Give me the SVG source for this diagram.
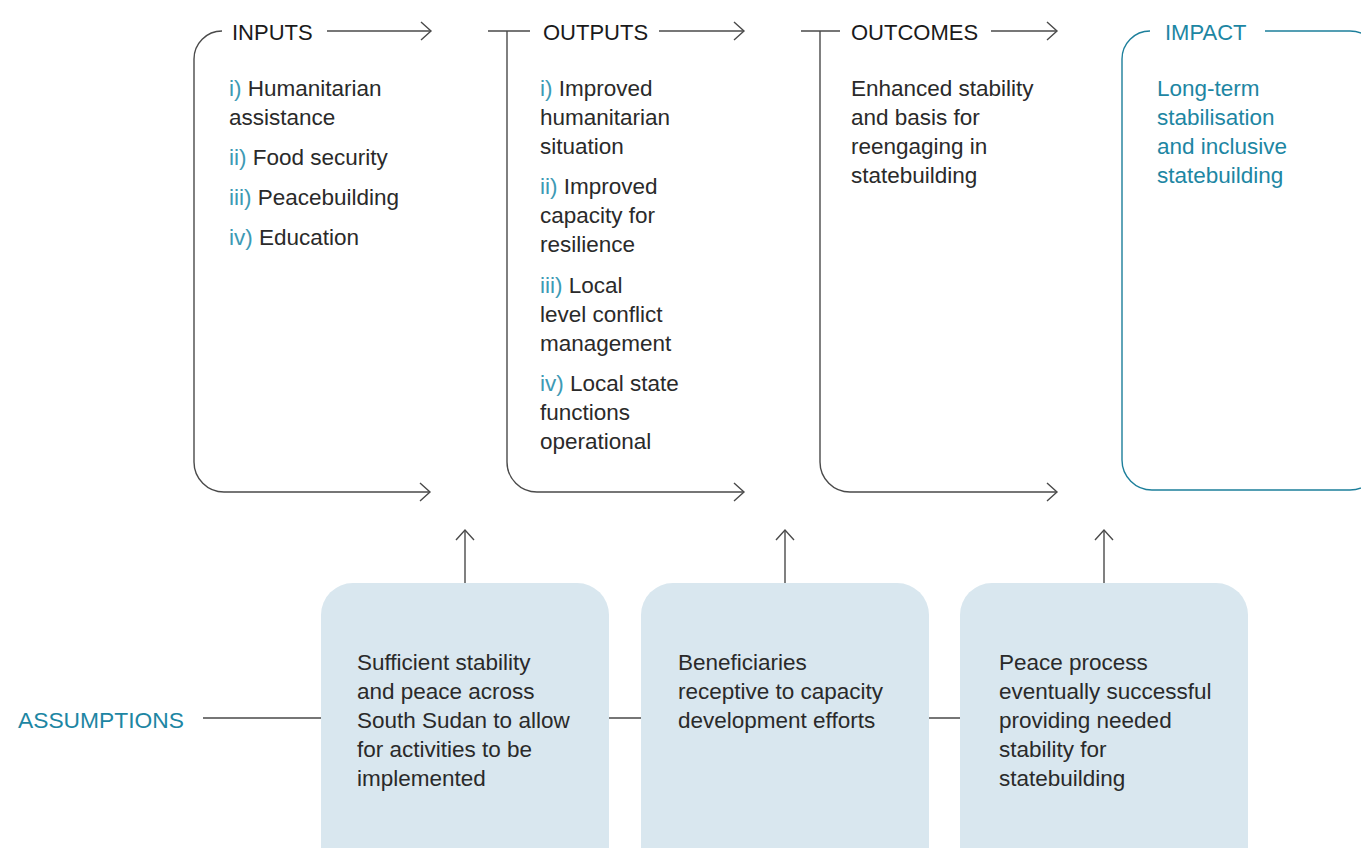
<svg xmlns="http://www.w3.org/2000/svg" width="1361" height="848" viewBox="0 0 1361 848">
<defs>
<marker id="chev" markerWidth="14" markerHeight="20" refX="11" refY="10" orient="auto" markerUnits="userSpaceOnUse">
<path d="M1,1 L11,10 L1,19" fill="none" stroke="#4a4a4a" stroke-width="1.4"/>
</marker>
</defs>
<style>
text{font-family:"Liberation Sans",Arial,sans-serif;font-size:22.5px;fill:#2a2a2a}
.h{font-size:22px;fill:#1a1a1a}
.n{fill:#3d9ab5}
.t{fill:#1d86a3}
.ln{fill:none;stroke:#4a4a4a;stroke-width:1.4}
.lt{fill:none;stroke:#1d7f9b;stroke-width:1.4}
.box{fill:#d9e7ef}
</style>
<rect width="1361" height="848" fill="#fff"/>

<g id="inputs">
<path class="ln" d="M222,31 A28,28 0 0 0 194,59 L194,462 A30,30 0 0 0 224,492 L430,492" marker-end="url(#chev)"/>
<text class="h" x="232" y="40">INPUTS</text>
<text x="229" y="96"><tspan class="n">i)</tspan> Humanitarian</text>
<text x="229" y="125">assistance</text>
<text x="229" y="165"><tspan class="n">ii)</tspan> Food security</text>
<text x="229" y="205"><tspan class="n">iii)</tspan> Peacebuilding</text>
<text x="229" y="245"><tspan class="n">iv)</tspan> Education</text>
</g>

<g id="outputs">
<path class="ln" d="M488,31 L530,31 M507,31 L507,462 A30,30 0 0 0 537,492 L744,492" marker-end="url(#chev)"/>
<text class="h" x="543" y="40">OUTPUTS</text>
<text x="540" y="96"><tspan class="n">i)</tspan> Improved</text>
<text x="540" y="125">humanitarian</text>
<text x="540" y="154">situation</text>
<text x="540" y="194"><tspan class="n">ii)</tspan> Improved</text>
<text x="540" y="223">capacity for</text>
<text x="540" y="252">resilience</text>
<text x="540" y="293"><tspan class="n">iii)</tspan> Local</text>
<text x="540" y="322">level conflict</text>
<text x="540" y="351">management</text>
<text x="540" y="391"><tspan class="n">iv)</tspan> Local state</text>
<text x="540" y="420">functions</text>
<text x="540" y="449">operational</text>
</g>

<g id="outcomes">
<path class="ln" d="M801,31 L840,31 M820,31 L820,462 A30,30 0 0 0 850,492 L1057,492" marker-end="url(#chev)"/>
<text class="h" x="851" y="40">OUTCOMES</text>
<text x="851" y="96">Enhanced stability</text>
<text x="851" y="125">and basis for</text>
<text x="851" y="154">reengaging in</text>
<text x="851" y="183">statebuilding</text>
</g>

<g id="impact">
<path class="lt" d="M1150,31 A28,28 0 0 0 1122,59 L1122,460 A30,30 0 0 0 1152,490 L1350,490 A30,30 0 0 0 1380,460 L1380,61 A30,30 0 0 0 1350,31 L1265,31"/>
<text class="h t" x="1165" y="40">IMPACT</text>
<text class="t" x="1157" y="96">Long-term</text>
<text class="t" x="1157" y="125">stabilisation</text>
<text class="t" x="1157" y="154">and inclusive</text>
<text class="t" x="1157" y="183">statebuilding</text>
</g>

<g id="connectors">
<path class="ln" d="M327,31 L431,31" marker-end="url(#chev)"/>
<path class="ln" d="M659,31 L744,31" marker-end="url(#chev)"/>
<path class="ln" d="M991,31 L1057,31" marker-end="url(#chev)"/>
<path class="ln" d="M465,583 L465,530" marker-end="url(#chev)"/>
<path class="ln" d="M785,583 L785,530" marker-end="url(#chev)"/>
<path class="ln" d="M1104,583 L1104,530" marker-end="url(#chev)"/>
<path class="ln" d="M203,718 L321,718 M609,718 L641,718 M929,718 L960,718"/>
</g>

<g id="assumptions">
<text class="t" x="18" y="728" style="font-size:22.8px">ASSUMPTIONS</text>
</g>

<g id="assumption1">
<rect class="box" x="321" y="583" width="288" height="300" rx="32"/>
<text x="357" y="670">Sufficient stability</text>
<text x="357" y="699">and peace across</text>
<text x="357" y="728">South Sudan to allow</text>
<text x="357" y="757">for activities to be</text>
<text x="357" y="786">implemented</text>
</g>

<g id="assumption2">
<rect class="box" x="641" y="583" width="288" height="300" rx="32"/>
<text x="678" y="670">Beneficiaries</text>
<text x="678" y="699">receptive to capacity</text>
<text x="678" y="728">development efforts</text>
</g>

<g id="assumption3">
<rect class="box" x="960" y="583" width="288" height="300" rx="32"/>
<text x="999" y="670">Peace process</text>
<text x="999" y="699">eventually successful</text>
<text x="999" y="728">providing needed</text>
<text x="999" y="757">stability for</text>
<text x="999" y="786">statebuilding</text>
</g>
</svg>
